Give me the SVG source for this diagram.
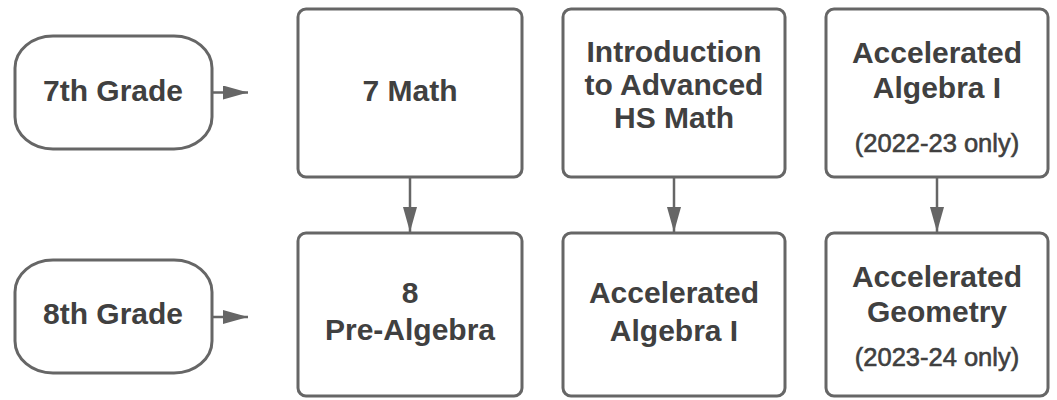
<svg xmlns="http://www.w3.org/2000/svg" width="1057" height="400" viewBox="0 0 1057 400">
  <style>
    .box { fill: #ffffff; stroke: #666666; stroke-width: 3; }
    .t { font-family: "Liberation Sans", Arial, sans-serif; font-weight: bold; font-size: 30px; fill: #404040; text-anchor: middle; }
    .s { font-family: "Liberation Sans", Arial, sans-serif; font-weight: normal; font-size: 25.5px; fill: #404040; stroke: #404040; stroke-width: 0.6; text-anchor: middle; }
    .c { stroke: #666666; stroke-width: 2.5; fill: none; marker-end: url(#ah); }
  </style>
  <defs>
    <marker id="ah" markerUnits="userSpaceOnUse" markerWidth="26" markerHeight="16" refX="25" refY="7" orient="auto">
      <path d="M0,0 L25,7 L0,14 Z" fill="#666666"/>
    </marker>
  </defs>
  <rect width="1057" height="400" fill="#ffffff"/>

  <g id="connectors">
    <line class="c" x1="212" y1="92.5" x2="248" y2="92.5"/>
    <line class="c" x1="212" y1="317" x2="248" y2="317"/>
    <line class="c" x1="410" y1="178" x2="410" y2="232"/>
    <line class="c" x1="674" y1="178" x2="674" y2="232"/>
    <line class="c" x1="937" y1="178" x2="937" y2="232"/>
  </g>

  <g id="grade7">
    <rect class="box" x="15" y="36" width="197" height="113" rx="38" ry="32"/>
    <text class="t" x="113" y="101">7th Grade</text>
  </g>
  <g id="grade8">
    <rect class="box" x="15" y="260" width="197" height="113" rx="38" ry="32"/>
    <text class="t" x="113" y="324">8th Grade</text>
  </g>

  <g id="math7">
    <rect class="box" x="298" y="9" width="224" height="168" rx="8"/>
    <text class="t" x="410" y="101">7 Math</text>
  </g>
  <g id="intro">
    <rect class="box" x="563" y="9" width="222" height="168" rx="8"/>
    <text class="t" x="674" y="62" font-size="27.5">Introduction</text>
    <text class="t" x="674" y="95" font-size="27.5">to Advanced</text>
    <text class="t" x="674" y="128" font-size="27.5">HS Math</text>
  </g>
  <g id="accalg7">
    <rect class="box" x="826" y="9" width="222" height="168" rx="8"/>
    <text class="t" x="937" y="63">Accelerated</text>
    <text class="t" x="937" y="98">Algebra I</text>
    <text class="s" x="937" y="152">(2022-23 only)</text>
  </g>

  <g id="prealg8">
    <rect class="box" x="298" y="233" width="224" height="163" rx="8"/>
    <text class="t" x="410" y="303">8</text>
    <text class="t" x="410" y="340">Pre-Algebra</text>
  </g>
  <g id="accalg8">
    <rect class="box" x="563" y="233" width="222" height="163" rx="8"/>
    <text class="t" x="674" y="303">Accelerated</text>
    <text class="t" x="674" y="341">Algebra I</text>
  </g>
  <g id="accgeo8">
    <rect class="box" x="826" y="233" width="222" height="163" rx="8"/>
    <text class="t" x="937" y="287">Accelerated</text>
    <text class="t" x="937" y="322">Geometry</text>
    <text class="s" x="937" y="366">(2023-24 only)</text>
  </g>
</svg>
